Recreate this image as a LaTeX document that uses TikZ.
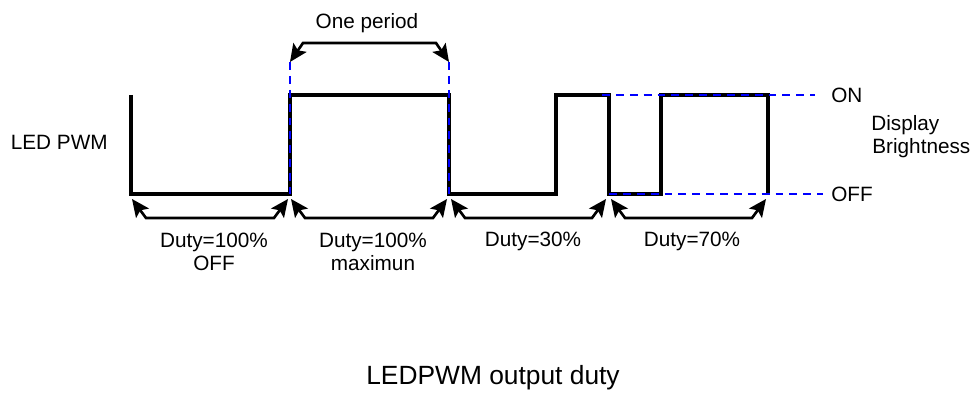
\documentclass[tikz,border=0pt]{standalone}
\usepackage{fontspec}
\setmainfont{Liberation Sans}
\usepackage{tikz}
\usetikzlibrary{arrows.meta,positioning,calc}

\begin{document}
\begin{tikzpicture}[
    x=0.02cm, y=-0.02cm,
    wave/.style={draw=black, line width=1.9pt, line join=miter},
    guide/.style={draw=blue, line width=0.6pt, dash pattern=on 4.5pt off 3.4pt},
    dimarrow/.style={draw=black, line width=1.5pt, {Stealth[length=10pt,width=9pt,inset=2pt]}-{Stealth[length=10pt,width=9pt,inset=2pt]}},
    lbl/.style={font=\fontsize{11.8}{13}\selectfont, inner sep=0pt, align=center}
]
\useasboundingbox (0,0) rectangle (977,395);

% 波形の点
\coordinate (w0) at (131,95);
\coordinate (w1) at (131,194);
\coordinate (w2) at (290,194);
\coordinate (w3) at (290,95);
\coordinate (w4) at (449,95);
\coordinate (w5) at (449,194);
\coordinate (w6) at (556,194);
\coordinate (w7) at (556,95);
\coordinate (w8) at (609,95);
\coordinate (w9) at (609,194);
\coordinate (w10) at (661,194);
\coordinate (w11) at (661,95);
\coordinate (w12) at (768,95);
\coordinate (w13) at (768,194);

% 波形
\draw[wave] (w0) -- (w1) -- (w2) -- (w3) -- (w4) -- (w5) -- (w6) -- (w7)
    -- (w8) -- (w9) -- (w10) -- (w11) -- (w12) -- (w13);

% 補助線
\coordinate (p1) at (290,62);
\coordinate (p2) at (449,62);
\draw[guide] (p1) -- (w2);
\draw[guide] (p2) -- (w5);
\coordinate (onEnd) at (815,95);
\coordinate (offEnd) at (823,194);
\draw[guide] (602,95) -- (onEnd);
\draw[guide] (w9) -- (offEnd);

% 一周期
\node[lbl] (period) at (367,23) {One period};
\draw[dimarrow] (p1) -- ($(p1)+(13,-19)$) -- ($(p2)+(-13,-19)$) -- (p2);

% デューティ矢印
\foreach \i/\a/\b in {1/132/288, 2/291/447, 3/451/606, 4/611/766} {
    \coordinate (a\i) at (\a,199);
    \coordinate (b\i) at (\b,199);
    \draw[dimarrow] (a\i) -- ($(a\i)+(14,19)$) -- ($(b\i)+(-14,19)$) -- (b\i);
}

% ラベル
\node[lbl] (d1) at (214,252) {Duty=100\%\\OFF};
\node[lbl] (d2) at (373,252) {Duty=100\%\\maximun};
\node[lbl] (d3) at (533,241) {Duty=30\%};
\node[lbl] (d4) at (692,241) {Duty=70\%};

\node[lbl, anchor=east] (led) at (108,142) {LED PWM};
\node[lbl, anchor=west] (on) at (831,95) {ON};
\node[lbl, anchor=west] (off) at (831,194) {OFF};
\node[lbl, anchor=west] (disp) at (871,125) {Display};
\node[lbl, anchor=west] (bright) at (872,148) {Brightness};

\node[font=\fontsize{15}{18}\selectfont, inner sep=0pt] (title) at (493,378) {LEDPWM output duty};
\end{tikzpicture}
\end{document}
